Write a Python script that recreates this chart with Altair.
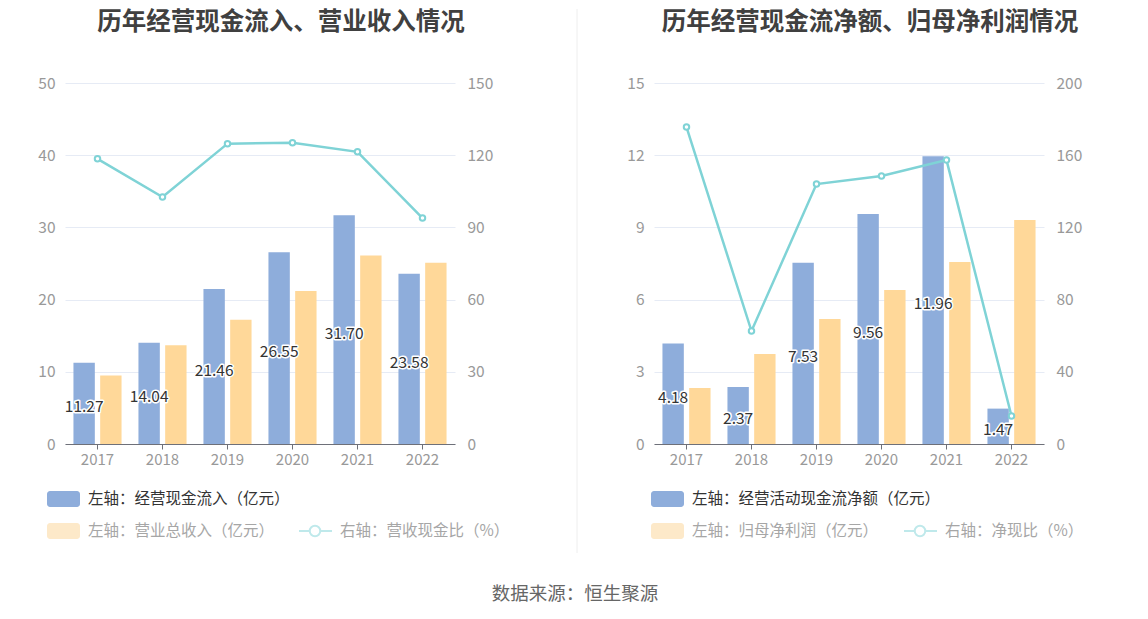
import altair as alt
import pandas as pd

years = ["2017", "2018", "2019", "2020", "2021", "2022"]

# Left chart
cash_inflow = [11.27, 14.04, 21.46, 26.55, 31.70, 23.58]
total_revenue = [9.50, 13.69, 17.20, 21.20, 26.10, 25.10]
cash_revenue_ratio = [118.5, 102.6, 124.8, 125.2, 121.4, 93.9]

# Right chart
net_cash_flow = [4.18, 2.37, 7.53, 9.56, 11.96, 1.47]
net_profit = [2.33, 3.74, 5.19, 6.40, 7.56, 9.31]
net_cash_ratio = [175.6, 62.6, 144.0, 148.5, 157.3, 15.5]

left_ticks = [0, 10, 20, 30, 40, 50]
left_right_ticks = [0, 30, 60, 90, 120, 150]
right_ticks = [0, 3, 6, 9, 12, 15]
right_right_ticks = [0, 40, 80, 120, 160, 200]

BLUE = "#8eaddb"
YELLOW = "#ffd899"
TEAL = "#7fd3d6"
LABEL_GRAY = "#999999"
GRID = "#e6ebf5"
FONT = "Noto Sans CJK SC"

W, H = 390, 361
one = pd.DataFrame({"k": [0]})


def decor_text(x, y, text, size=15.5, color="#333333", weight="normal", align="left"):
    return alt.Chart(one).mark_text(
        align=align, baseline="middle", fontSize=size, color=color, fontWeight=weight, font=FONT
    ).encode(x=alt.value(x), y=alt.value(y), text=alt.value(text))


def decor_rect(x, x2, y, y2, color):
    return alt.Chart(one).mark_rect(color=color, cornerRadius=3).encode(
        x=alt.value(x), x2=alt.value(x2), y=alt.value(y), y2=alt.value(y2)
    )


def panel(bar1, bar2, ratio, lticks, rticks, title, title_x, leg1, leg2, leg3, lx, line_x, extra=()):
    bars_df = pd.DataFrame({
        "year": years * 2,
        "series": ["a"] * len(years) + ["b"] * len(years),
        "value": bar1 + bar2,
    })
    lab_df = pd.DataFrame({"year": years, "value": bar1})
    line_df = pd.DataFrame({"year": years, "ratio": ratio})

    xenc = alt.X(
        "year:N",
        title=None,
        scale=alt.Scale(paddingInner=0.26, paddingOuter=0.13),
        axis=alt.Axis(
            labelAngle=0, labelColor=LABEL_GRAY, labelFontSize=15, labelFont=FONT,
            domainColor="#6e7079", tickColor="#6e7079", tickSize=5, labelPadding=3,
            grid=False,
        ),
    )
    laxis = alt.Axis(
        values=lticks, grid=True, gridColor=GRID, domain=False, ticks=False,
        labelPadding=10, labelColor=LABEL_GRAY, labelFontSize=15.5, labelFont=FONT, title=None,
    )
    lscale = alt.Scale(domain=[lticks[0], lticks[-1]], nice=False)

    bars = alt.Chart(bars_df).mark_bar().encode(
        x=xenc,
        xOffset=alt.XOffset("series:N", scale=alt.Scale(paddingInner=0.2, paddingOuter=0)),
        y=alt.Y("value:Q", scale=lscale, axis=laxis),
        color=alt.Color("series:N", scale=alt.Scale(domain=["a", "b"], range=[BLUE, YELLOW]), legend=None),
    )
    lab_base = alt.Chart(lab_df).transform_calculate(half="datum.value / 2").encode(
        x=xenc,
        xOffset=alt.XOffset("s:N", scale=alt.Scale(paddingInner=0.2, paddingOuter=0)),
        y=alt.Y("half:Q", scale=lscale, axis=laxis),
        text=alt.Text("value:Q", format=".2f"),
    ).transform_calculate(s="'a'")
    halo = lab_base.mark_text(fontSize=15.5, dy=4, font=FONT, stroke="white", strokeWidth=3,
                              strokeJoin="round", fill="white")
    labels = lab_base.mark_text(fontSize=15.5, dy=4, font=FONT, color="#333333")

    decor = [
        decor_text(title_x, -60, title, size=24.5, color="#404040", weight="bold", align="center"),
        decor_rect(lx, lx + 33, 408, 424, BLUE),
        decor_text(lx + 41, 416, leg1, color="#333333"),
        decor_rect(lx, lx + 33, 440, 456, "#fde9c9"),
        decor_text(lx + 41, 448, leg2, color="#a6a6a6"),
        alt.Chart(one).mark_rule(color="#bfe9eb", strokeWidth=2).encode(
            x=alt.value(line_x), x2=alt.value(line_x + 33), y=alt.value(448)),
        alt.Chart(one).mark_point(shape="circle", filled=True, fill="white", stroke="#bfe9eb",
                                  strokeWidth=2, size=110, opacity=1).encode(
            x=alt.value(line_x + 16), y=alt.value(448)),
        decor_text(line_x + 41, 448, leg3, color="#a6a6a6"),
    ] + list(extra)

    raxis = alt.Axis(
        values=rticks, grid=False, domain=False, ticks=False, orient="right",
        labelPadding=12, labelColor=LABEL_GRAY, labelFontSize=15.5, labelFont=FONT, title=None,
    )
    rscale = alt.Scale(domain=[rticks[0], rticks[-1]], nice=False)
    line = alt.Chart(line_df).mark_line(color=TEAL, strokeWidth=2.5).encode(
        x=xenc, y=alt.Y("ratio:Q", scale=rscale, axis=raxis)
    )
    pts = alt.Chart(line_df).mark_point(
        shape="circle", filled=True, fill="white", stroke=TEAL, strokeWidth=2, size=30, opacity=1
    ).encode(x=xenc, y=alt.Y("ratio:Q", scale=rscale, axis=raxis))

    left_group = alt.layer(bars, halo, labels, *decor)
    right_group = alt.layer(line, pts)
    return alt.layer(left_group, right_group).resolve_scale(y="independent").properties(width=W, height=H)


left = panel(
    cash_inflow, total_revenue, cash_revenue_ratio, left_ticks, left_right_ticks,
    "历年经营现金流入、营业收入情况", 216,
    "左轴：经营现金流入（亿元）", "左轴：营业总收入（亿元）", "右轴：营收现金比（%）",
    -18, 234,
    extra=[
        alt.Chart(one).mark_rule(color="#eeeeee", strokeWidth=1).encode(
            x=alt.value(512), y=alt.value(-74), y2=alt.value(470)),
        decor_text(510, 511, "数据来源：恒生聚源", size=18.5, color="#666666", align="center"),
    ],
)
right = panel(
    net_cash_flow, net_profit, net_cash_ratio, right_ticks, right_right_ticks,
    "历年经营现金流净额、归母净利润情况", 216,
    "左轴：经营活动现金流净额（亿元）", "左轴：归母净利润（亿元）", "右轴：净现比（%）",
    -3, 250,
)

chart = alt.hconcat(left, right, spacing=199, bounds="flush").properties(
    padding={"left": 29, "top": 0, "right": 0, "bottom": 0}
).configure(
    font=FONT, background="white", view=alt.ViewConfig(stroke="transparent", strokeWidth=0)
)

chart.save("out.html", embed_options={"renderer": "svg", "actions": False})
